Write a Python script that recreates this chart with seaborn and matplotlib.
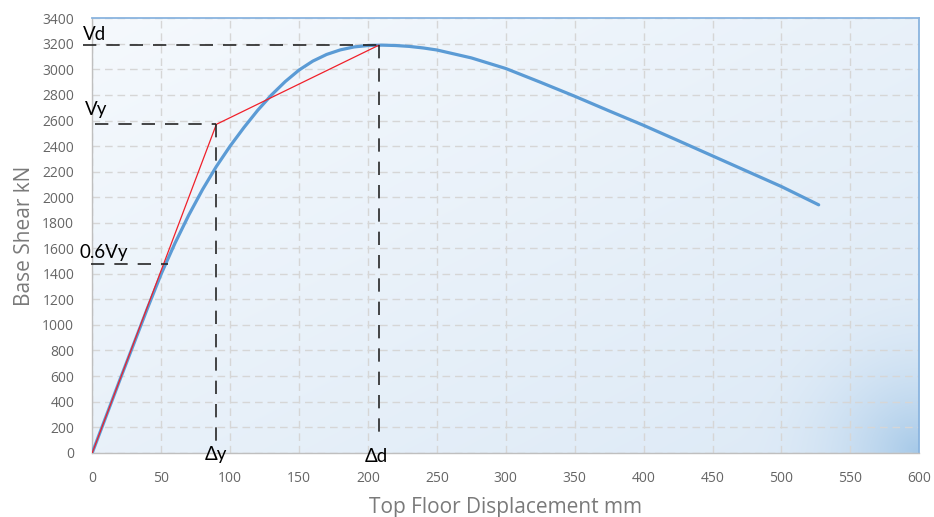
import numpy as np
import pandas as pd
import matplotlib
matplotlib.use("Agg")
import matplotlib.pyplot as plt
import seaborn as sns
from matplotlib.colors import to_rgb

# ---------------- data ----------------
disp_mm = [0, 10, 20, 30, 40, 50, 60, 70, 80, 90, 100, 110, 120, 130, 140, 150,
           160, 170, 180, 190, 200, 210, 220, 230, 240, 250, 275, 300, 325, 350,
           375, 400, 425, 450, 475, 500, 527]
shear_kN = [0, 285, 570, 850, 1130, 1400, 1640, 1860, 2060, 2240, 2400, 2545,
            2680, 2800, 2905, 2995, 3065, 3117, 3153, 3176, 3187, 3190, 3187,
            3180, 3168, 3152, 3090, 3007, 2900, 2790, 2675, 2562, 2443, 2323,
            2203, 2083, 1940]

bilinear_x = [0, 90, 208]
bilinear_y = [0, 2570, 3190]

Vd = 3190
Vy = 2570
V06y = 1480
delta_y = 90
delta_d = 208

x_ticks = list(range(0, 601, 50))
y_ticks = list(range(0, 3401, 200))

curve = pd.DataFrame({"disp": disp_mm, "shear": shear_kN})
bilin = pd.DataFrame({"disp": bilinear_x, "shear": bilinear_y})

# ---------------- style ----------------
sns.set_style("white")
plt.rcParams["font.family"] = ["Open Sans", "DejaVu Sans"]

fig = plt.figure(figsize=(9.34, 5.17), dpi=100)
ax = fig.add_axes([92.3 / 934, 1 - 452.7 / 517, (919.3 - 92.3) / 934, (452.7 - 18.3) / 517])

# background gradient
nx, ny = 400, 250
u = np.linspace(0, 1, nx)[None, :]
v = np.linspace(1, 0, ny)[:, None]  # row 0 = top
t = (u + (1 - v)) / 2.0
c0 = np.array(to_rgb("#f5f9fd"))
c1 = np.array(to_rgb("#dce9f6"))
img = c0[None, None, :] * (1 - t[..., None]) + c1[None, None, :] * t[..., None]
d = np.sqrt(((u - 1) * 1.9) ** 2 + ((v - 0) * 1.0) ** 2)
blob = np.clip(1 - d / 0.42, 0, 1) ** 2.2
c2 = np.array(to_rgb("#a6c9e8"))
img = img * (1 - blob[..., None]) + c2[None, None, :] * blob[..., None]
ax.imshow(img, extent=[0, 600, 0, 3400], aspect="auto", zorder=0, interpolation="bilinear")

ax.set_xlim(0, 600)
ax.set_ylim(0, 3400)
ax.set_xticks(x_ticks)
ax.set_yticks(y_ticks)

ax.set_axisbelow(True)
ax.grid(True, color="#d6d6d6", linewidth=1.0, linestyle=(0, (5.5, 3.5)))

# curves
sns.lineplot(data=curve, x="disp", y="shear", ax=ax, color="#5b9bd5",
             linewidth=2.3, sort=False, zorder=3)
sns.lineplot(data=bilin, x="disp", y="shear", ax=ax, color="#f0202a",
             linewidth=0.9, sort=False, zorder=4)

# dashed reference lines
dash_kw = dict(color="#262626", linewidth=1.2, dashes=(8, 6), zorder=5, clip_on=False)
ax.plot([-7, delta_d], [Vd, Vd], **dash_kw)
ax.plot([delta_d, delta_d], [Vd, 110], **dash_kw)
ax.plot([2, delta_y], [Vy, Vy], **dash_kw)
ax.plot([delta_y, delta_y], [Vy, 60], **dash_kw)
ax.plot([-1, 55], [V06y, V06y], **dash_kw)

ann_font = ["Lato", "DejaVu Sans"]
tkw = dict(fontsize=13.5, family=ann_font, color="black", va="baseline", ha="left", clip_on=False)
ax.text(-6.7, 3234, "Vd", **tkw)
ax.text(-5.3, 2643, "Vy", **tkw)
ax.text(-9.6, 1524, "0.6Vy", **tkw)
ax.text(81.8, -57, "Δy", **tkw)
ax.text(198, -70, "Δd", **tkw)

# spines
for s in ["left", "bottom"]:
    ax.spines[s].set_color("#bfbfbf")
    ax.spines[s].set_linewidth(1.0)
for s in ["top", "right"]:
    ax.spines[s].set_color("#8ab4df")
    ax.spines[s].set_linewidth(1.3)
    ax.spines[s].set_visible(True)

ax.tick_params(axis="x", direction="out", length=5, width=1, color="#bfbfbf",
               labelsize=10, labelcolor="#666666", pad=8)
ax.tick_params(axis="y", length=0, labelsize=10, labelcolor="#666666", pad=13)

ax.set_xlabel("Top Floor Displacement mm", fontsize=15, color="#7a7a7a", labelpad=8)
ax.set_ylabel("Base Shear kN", fontsize=15, color="#7a7a7a", labelpad=5)

fig.savefig("out.png", dpi=100)
